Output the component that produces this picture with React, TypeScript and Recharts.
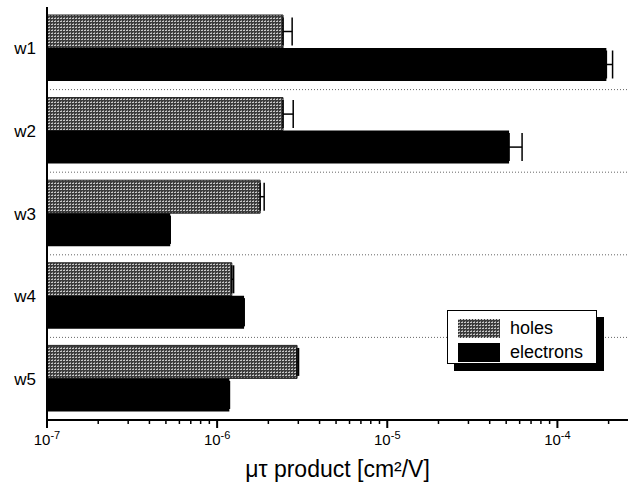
import React from 'react';
import { BarChart, Bar, XAxis, YAxis, CartesianGrid, ErrorBar } from 'recharts';

const categories = ['w1', 'w2', 'w3', 'w4', 'w5'];
const holes = [2.44e-6, 2.44e-6, 1.79e-6, 1.22e-6, 2.95e-6];
const holesErr = [0.32e-6, 0.36e-6, 0.1e-6, 0.03e-6, 0.06e-6];
const electrons = [1.94e-4, 5.2e-5, 5.3e-7, 1.44e-6, 1.18e-6];
const electronsErr = [0.17e-4, 1.0e-5, 0, 0, 0];

const majorTicks = [1e-7, 1e-6, 1e-5, 1e-4];
const majorLabels = ['-7', '-6', '-5', '-4'];
const xTicks = [
  1e-7, 2e-7, 3e-7, 4e-7, 5e-7, 6e-7, 7e-7, 8e-7, 9e-7,
  1e-6, 2e-6, 3e-6, 4e-6, 5e-6, 6e-6, 7e-6, 8e-6, 9e-6,
  1e-5, 2e-5, 3e-5, 4e-5, 5e-5, 6e-5, 7e-5, 8e-5, 9e-5,
  1e-4, 2e-4,
];
const seriesNames = ['holes', 'electrons'];

const data = categories.map((name, i) => ({
  name,
  holes: holes[i],
  holesErr: [0, holesErr[i]],
  electrons: electrons[i],
  electronsErr: [0, electronsErr[i]],
}));

const FONT = '"Liberation Sans", Arial, Helvetica, sans-serif';
const DOMAIN: [number, number] = [1e-7, 2.6e-4];

const LogTick = (props: any) => {
  const { x, y, payload } = props;
  const idx = majorTicks.findIndex((t) => Math.abs(t - payload.value) / t < 1e-6);
  const major = idx >= 0;
  return (
    <g>
      <line x1={x} x2={x} y1={y} y2={y + (major ? 8 : 4)} stroke="#000" strokeWidth={major ? 2 : 1.5} />
      {major && (
        <text x={x} y={y + 25} textAnchor="middle" fontSize={15} fontFamily={FONT} fill="#000">
          10
          <tspan dy={-6} fontSize={11}>
            {majorLabels[idx]}
          </tspan>
        </text>
      )}
    </g>
  );
};

const HolesSwatch = ({ id }: { id: string }) => (
  <pattern id={id} width={3} height={3} patternUnits="userSpaceOnUse">
    <rect width={3} height={3} fill="#3c3c3c" />
    <rect x={0} y={0} width={2} height={1} fill="#c8c8c8" />
    <rect x={1} y={2} width={1} height={1} fill="#8c8c8c" />
  </pattern>
);

export default function App() {
  return (
    <div style={{ position: 'absolute', left: 0, top: 0, width: 630, height: 490, background: '#fff' }}>
      <BarChart
        width={630}
        height={490}
        data={data}
        layout="vertical"
        margin={{ top: 7, right: 2, left: 0, bottom: 10 }}
        barGap={0}
        barSize={33}
      >
        <defs>
          <HolesSwatch id="holesPattern" />
        </defs>
        <CartesianGrid
          vertical={false}
          stroke="#666"
          strokeDasharray="1 2"
          horizontalCoordinatesGenerator={({ offset }: any) =>
            categories.slice(1).map((_, i) => offset.top + ((i + 1) * offset.height) / categories.length)
          }
        />
        <XAxis
          type="number"
          scale="log"
          domain={DOMAIN}
          allowDataOverflow
          ticks={xTicks}
          interval={0}
          tickSize={0}
          tickMargin={0}
          tickLine={false}
          tick={<LogTick />}
          height={60}
          axisLine={{ stroke: '#000', strokeWidth: 2 }}
          label={{
            value: 'μτ product [cm²/V]',
            position: 'insideBottom',
            offset: 3,
            fontSize: 23,
            fontFamily: FONT,
            fill: '#000',
          }}
        />
        <XAxis
          xAxisId="top"
          orientation="top"
          type="number"
          scale="log"
          domain={DOMAIN}
          allowDataOverflow
          height={0}
          tick={false}
          tickLine={false}
          axisLine={{ stroke: '#000', strokeWidth: 2 }}
        />
        <YAxis
          type="category"
          dataKey="name"
          width={47}
          tickSize={0}
          tickMargin={11}
          tickLine={false}
          axisLine={{ stroke: '#000', strokeWidth: 2 }}
          tick={{ fontSize: 17, fontFamily: FONT, fill: '#000' }}
        />
        <Bar dataKey="holes" name={seriesNames[0]} fill="url(#holesPattern)" stroke="#222" strokeWidth={1} isAnimationActive={false}>
          <ErrorBar dataKey="holesErr" direction="x" width={14} stroke="#000" strokeWidth={1.5} />
        </Bar>
        <Bar dataKey="electrons" name={seriesNames[1]} fill="#000" isAnimationActive={false}>
          <ErrorBar dataKey="electronsErr" direction="x" width={14} stroke="#000" strokeWidth={1.5} />
        </Bar>
      </BarChart>
      <div
        style={{
          position: 'absolute',
          left: 447,
          top: 310,
          width: 148,
          height: 52,
          border: '1px solid #000',
          background: '#fff',
          boxShadow: '7px 7px 0 #000',
          fontFamily: FONT,
          fontSize: 18,
          color: '#000',
        }}
      >
        {seriesNames.map((s, i) => (
          <div key={s} style={{ position: 'absolute', left: 10, top: 7 + i * 24, height: 20, display: 'flex', alignItems: 'center' }}>
            <svg width={42} height={19} style={{ display: 'block' }}>
              <defs>
                <HolesSwatch id="holesLegend" />
              </defs>
              <rect width={42} height={19} fill={i === 0 ? 'url(#holesLegend)' : '#000'} />
            </svg>
            <span style={{ marginLeft: 10, lineHeight: '20px' }}>{s}</span>
          </div>
        ))}
      </div>
    </div>
  );
}
